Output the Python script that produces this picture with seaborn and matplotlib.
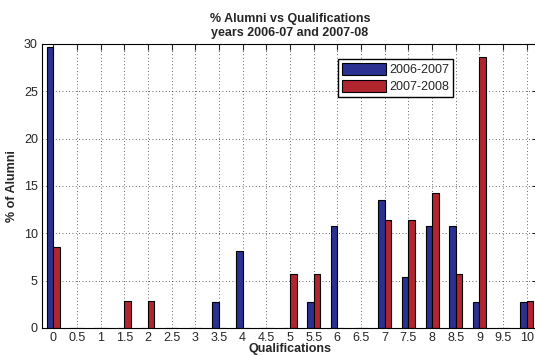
import pandas as pd
import matplotlib
matplotlib.use("Agg")
import matplotlib.pyplot as plt
import seaborn as sns

qualifications = ["0", "0.5", "1", "1.5", "2", "2.5", "3", "3.5", "4", "4.5", "5",
                  "5.5", "6", "6.5", "7", "7.5", "8", "8.5", "9", "9.5", "10"]
y2006 = [29.7, 0, 0, 0, 0, 0, 0, 2.7, 8.1, 0, 0,
         2.7, 10.8, 0, 13.5, 5.4, 10.8, 10.8, 2.7, 0, 2.7]
y2007 = [8.6, 0, 0, 2.9, 2.9, 0, 0, 0, 0, 0, 5.7,
         5.7, 0, 0, 11.4, 11.4, 14.3, 5.7, 28.6, 0, 2.9]

df = pd.DataFrame({
    "Qualifications": qualifications * 2,
    "pct": y2006 + y2007,
    "year": ["2006-2007"] * len(y2006) + ["2007-2008"] * len(y2007),
})

sns.set_style("white")
plt.rcParams["font.family"] = ["Liberation Sans", "DejaVu Sans"]

fig = plt.figure(figsize=(5.35, 3.56), dpi=100)
ax = fig.add_axes([42 / 535, 1 - 328 / 356, 496 / 535, 284 / 356])

sns.barplot(data=df, x="Qualifications", y="pct", hue="year", order=qualifications,
            palette=["#2b3190", "#b1252f"], saturation=1, width=0.55,
            edgecolor="black", linewidth=0.8, ax=ax)

ax.set_xlim(-0.47, 20.47)
ax.set_ylim(0, 30)
ax.set_yticks([0, 5, 10, 15, 20, 25, 30])
ax.grid(True, linestyle=(0, (1, 3)), color="black", linewidth=0.6, alpha=0.8)
ax.set_axisbelow(True)
ax.tick_params(direction="in", length=4, top=True, right=True, labelsize=9, pad=3)
for s in ax.spines.values():
    s.set_linewidth(0.8)
    s.set_color("black")

ax.set_title("% Alumni vs Qualifications\nyears 2006-07 and 2007-08",
             fontsize=9, fontweight="bold", pad=6)
ax.set_xlabel("Qualifications", fontsize=9, fontweight="bold", labelpad=-1)
ax.set_ylabel("% of Alumni", fontsize=9, fontweight="bold")

ax.legend(loc="upper left", bbox_to_anchor=(0.585, 0.97), fontsize=9, frameon=True,
          fancybox=False, edgecolor="black", framealpha=1, title=None,
          handlelength=3.5, handleheight=1.1, borderpad=0.3, labelspacing=0.3,
          handletextpad=0.3)

fig.savefig("out.png", dpi=100)
